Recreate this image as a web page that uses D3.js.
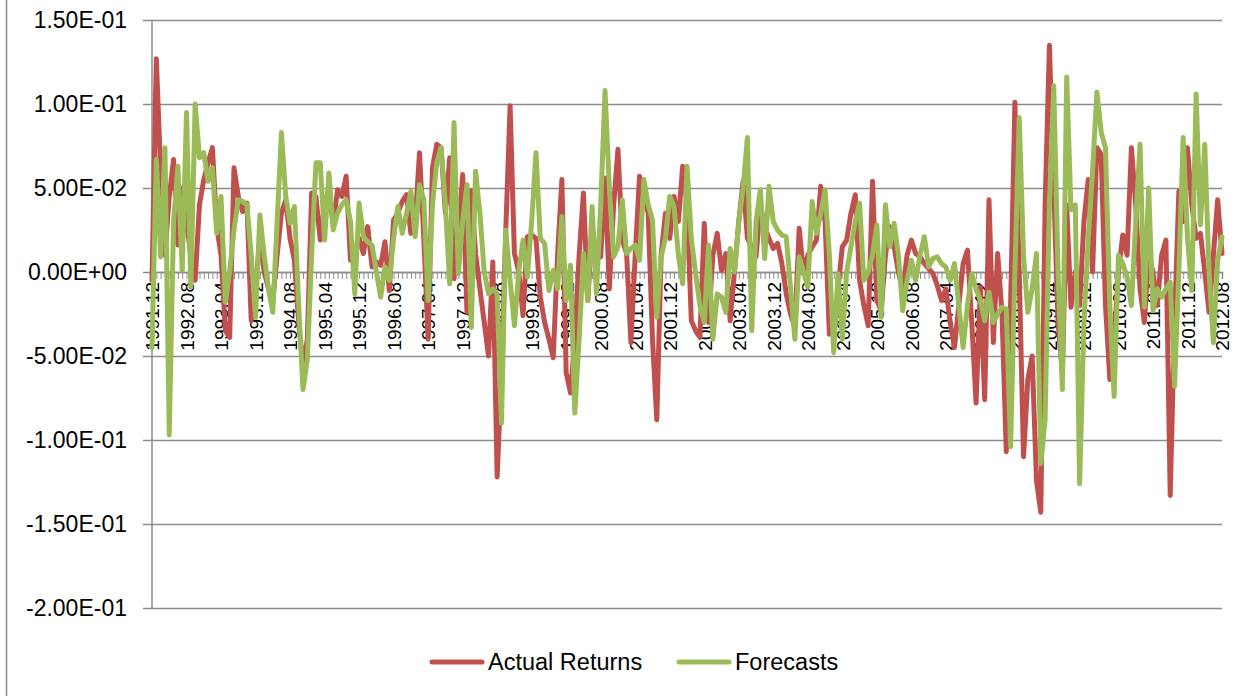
<!DOCTYPE html>
<html>
<head>
<meta charset="utf-8">
<script src="https://cdn.jsdelivr.net/npm/d3@7"></script>
<style>
  body { margin: 0; background: #fff; }
  svg { display: block; }
</style>
</head>
<body>
<div id="chart"></div>
<script>
// monthly series, 1991.12 to 2012.08 (249 months)
const startYear = 1991, startMonth = 12;

const actualReturns = [
  -0.005, 0.127, 0.060, 0.010, 0.045, 0.067, 0.016, 0.050, 0.030, 0.010,
  -0.005, 0.040, 0.055, 0.065, 0.074, 0.027, 0.010, -0.035, -0.039, 0.062,
  0.045, 0.036, 0.041, -0.029, -0.010, 0.020, 0.000, -0.010, -0.017, 0.010,
  0.035, 0.043, 0.020, 0.007, -0.030, -0.056, -0.040, 0.047, 0.045, 0.019,
  0.040, 0.050, 0.028, 0.049, 0.045, 0.057, 0.007, 0.012, 0.020, 0.011,
  0.027, 0.003, 0.006, 0.004, 0.018, -0.011, 0.031, 0.035, 0.042, 0.046,
  0.023, 0.030, 0.071, 0.020, -0.040, 0.062, 0.076, 0.074, 0.035, 0.068,
  -0.004, 0.020, 0.058, -0.024, 0.048, 0.011, -0.010, -0.030, -0.050, 0.006,
  -0.122, -0.060, 0.025, 0.099, 0.011, 0.000, -0.026, 0.021, 0.022, 0.020,
  -0.015, -0.030, -0.040, -0.051, 0.010, 0.055, -0.060, -0.072, -0.040, 0.010,
  0.047, -0.017, 0.025, 0.010, 0.009, 0.056, -0.010, 0.040, 0.073, 0.019,
  0.011, -0.042, 0.010, 0.057, 0.045, 0.035, -0.040, -0.088, 0.010, 0.035,
  0.020, 0.045, 0.030, 0.063, 0.040, -0.029, -0.035, -0.039, 0.029, -0.030,
  0.010, 0.023, 0.001, 0.011, -0.029, 0.000, 0.030, 0.054, 0.020, 0.015,
  0.009, 0.040, 0.027, 0.020, 0.014, 0.017, 0.005, -0.013, -0.025, -0.033,
  0.026, -0.001, 0.010, 0.015, 0.019, 0.051, 0.030, -0.037, -0.035, -0.010,
  0.015, 0.019, 0.035, 0.046, -0.005, -0.020, -0.032, 0.054, -0.017, -0.023,
  0.010, 0.027, 0.015, 0.000, -0.011, 0.010, 0.019, 0.011, 0.009, 0.005,
  0.002, -0.001, -0.008, -0.017, -0.010, -0.030, -0.045, -0.020, 0.005, 0.013,
  -0.030, -0.078, -0.009, -0.076, 0.043, -0.042, 0.011, -0.024, -0.107, -0.020,
  0.101, -0.001, -0.110, -0.064, -0.050, -0.124, -0.143, 0.040, 0.135, 0.050,
  -0.030, -0.060, 0.040, -0.021, 0.000, -0.020, 0.030, 0.055, 0.000, 0.074,
  0.070, -0.020, -0.064, -0.040, 0.000, 0.022, 0.010, 0.074, 0.040, -0.010,
  -0.030, 0.010, 0.000, -0.020, 0.010, 0.019, -0.133, -0.030, 0.048, 0.030,
  0.074, 0.040, 0.020, 0.023, 0.000, -0.024, 0.010, 0.043, 0.011
];

const forecasts = [
  -0.045, 0.067, 0.009, 0.074, -0.097, 0.030, 0.063, 0.001, 0.095, -0.009,
  0.100, 0.068, 0.071, 0.054, 0.062, 0.023, 0.045, -0.018, 0.000, 0.025,
  0.043, 0.042, 0.040, 0.010, -0.027, 0.034, 0.010, -0.010, -0.024, 0.030,
  0.083, 0.045, 0.029, 0.039, -0.020, -0.070, -0.052, 0.010, 0.065, 0.065,
  0.019, 0.059, 0.025, 0.035, 0.040, 0.043, 0.030, -0.013, 0.041, 0.021,
  0.018, 0.016, 0.000, -0.015, 0.003, -0.005, 0.020, 0.039, 0.023, 0.035,
  0.048, 0.021, 0.052, 0.043, -0.017, 0.040, 0.065, 0.074, 0.040, -0.007,
  0.089, -0.001, 0.030, 0.052, -0.033, 0.060, 0.035, 0.000, -0.013, -0.010,
  -0.013, -0.090, 0.025, -0.005, -0.032, 0.000, 0.019, -0.003, 0.030, 0.071,
  0.020, 0.017, -0.011, 0.001, -0.010, 0.033, -0.017, 0.004, -0.084, -0.040,
  0.011, -0.017, 0.039, -0.013, 0.040, 0.108, 0.050, 0.009, 0.015, 0.043,
  0.011, 0.014, 0.016, 0.007, 0.055, 0.040, 0.031, -0.027, 0.009, 0.020,
  0.045, 0.039, 0.010, -0.007, 0.063, 0.020, -0.001, -0.020, -0.030, 0.016,
  -0.040, -0.013, -0.015, -0.024, 0.014, 0.000, 0.030, 0.050, 0.080, -0.035,
  0.030, 0.049, 0.008, 0.051, 0.030, 0.025, 0.022, 0.021, -0.010, -0.040,
  0.009, 0.000, -0.009, 0.042, 0.023, 0.035, 0.049, 0.010, -0.048, -0.001,
  -0.040, 0.000, 0.015, 0.030, 0.041, -0.005, 0.000, 0.010, 0.028, -0.027,
  0.040, 0.015, 0.029, 0.010, -0.023, -0.005, 0.007, -0.005, 0.010, 0.021,
  0.003, 0.008, 0.009, 0.005, 0.003, -0.005, 0.005, -0.020, -0.045, -0.020,
  -0.001, -0.010, -0.017, -0.029, -0.012, -0.030, -0.025, -0.021, -0.022, -0.104,
  0.000, 0.092, 0.010, -0.024, -0.010, 0.011, -0.114, -0.088, 0.040, 0.111,
  0.000, -0.070, 0.116, 0.037, 0.040, -0.126, -0.030, 0.020, 0.060, 0.107,
  0.083, 0.074, -0.020, -0.074, 0.010, 0.005, -0.003, -0.020, 0.030, 0.076,
  -0.021, 0.050, -0.023, -0.010, -0.015, -0.010, -0.006, -0.068, 0.000, 0.080,
  0.020, -0.011, 0.106, 0.028, 0.076, 0.000, -0.042, 0.007, 0.021
];

const tickLabels = [
  "1991.12", "1992.08", "1993.04", "1993.12", "1994.08", "1995.04", "1995.12", "1996.08",
  "1997.04", "1997.12", "1998.08", "1999.04", "1999.12", "2000.08", "2001.04", "2001.12",
  "2002.08", "2003.04", "2003.12", "2004.08", "2005.04", "2005.12", "2006.08", "2007.04",
  "2007.12", "2008.08", "2009.04", "2009.12", "2010.08", "2011.04", "2011.12", "2012.08"
];

const yTicks = [-0.2, -0.15, -0.1, -0.05, 0, 0.05, 0.1, 0.15];

const seriesNames = ["Actual Returns", "Forecasts"];
const seriesColors = ["#c0504d", "#9bbb59"];

// month labels for every data point
const months = actualReturns.map((d, i) => {
  const m = (startMonth - 1 + i) % 12 + 1;
  const y = startYear + Math.floor((startMonth - 1 + i) / 12);
  return `${y}.${String(m).padStart(2, "0")}`;
});

const width = 1251, height = 696;
const plot = { left: 152, right: 1222, top: 20, bottom: 608 };
const gridColor = "#8c8c8c";

const svg = d3.select("#chart").append("svg")
  .attr("width", width)
  .attr("height", height)
  .attr("font-family", "'Liberation Sans', Arial, sans-serif");

// chart area border (left edge visible)
svg.append("line")
  .attr("x1", 6.5).attr("x2", 6.5)
  .attr("y1", 0).attr("y2", height)
  .attr("stroke", "#888")
  .attr("stroke-width", 1.5);

const x = d3.scalePoint()
  .domain(months)
  .range([plot.left, plot.right]);

const y = d3.scaleLinear()
  .domain([-0.2, 0.15])
  .range([plot.bottom, plot.top]);

// horizontal gridlines + y axis labels
const yAxis = d3.axisLeft(y)
  .tickValues(yTicks)
  .tickSize(-(plot.right - plot.left))
  .tickPadding(16)
  .tickFormat(d => d.toExponential(2).replace(/e([+-])(\d)$/, "E$10$2").toUpperCase());

const gy = svg.append("g")
  .attr("transform", `translate(${plot.left},0)`)
  .call(yAxis);
gy.select(".domain").remove();
gy.selectAll(".tick line")
  .attr("x1", -9)
  .attr("stroke", gridColor)
  .attr("stroke-width", 1.5);
gy.selectAll(".tick text")
  .attr("font-size", 23)
  .attr("fill", "#000")
  .attr("dx", -9);

// vertical y axis line
svg.append("line")
  .attr("x1", plot.left).attr("x2", plot.left)
  .attr("y1", plot.top).attr("y2", plot.bottom)
  .attr("stroke", gridColor)
  .attr("stroke-width", 1.5);

// category axis at zero
const y0 = y(0);
const gx = svg.append("g")
  .attr("transform", `translate(0,${y0})`)
  .call(d3.axisBottom(x).tickSize(7).tickFormat(""));
gx.select(".domain")
  .attr("stroke", gridColor)
  .attr("stroke-width", 1.5);
gx.selectAll(".tick line")
  .attr("stroke", gridColor)
  .attr("stroke-width", 1);

gx.selectAll(".tick")
  .filter(d => tickLabels.includes(d))
  .append("text")
  .attr("transform", "rotate(-90)")
  .attr("x", -10)
  .attr("dy", "0.36em")
  .attr("text-anchor", "end")
  .attr("font-size", 19)
  .attr("fill", "#000")
  .text(d => d);

// series lines
const line = d3.line()
  .x((d, i) => x(months[i]))
  .y(d => y(d));

[actualReturns, forecasts].forEach((s, k) => {
  svg.append("path")
    .datum(s)
    .attr("d", line)
    .attr("fill", "none")
    .attr("stroke", seriesColors[k])
    .attr("stroke-width", 5)
    .attr("stroke-linejoin", "round")
    .attr("stroke-linecap", "round");
});

// legend
const legendItems = [
  { name: seriesNames[0], color: seriesColors[0], x: 432 },
  { name: seriesNames[1], color: seriesColors[1], x: 679 }
];
const lg = svg.append("g").attr("transform", "translate(0,662)");
legendItems.forEach(d => {
  lg.append("line")
    .attr("x1", d.x).attr("x2", d.x + 50)
    .attr("y1", 0).attr("y2", 0)
    .attr("stroke", d.color)
    .attr("stroke-width", 5)
    .attr("stroke-linecap", "round");
  lg.append("text")
    .attr("x", d.x + 56)
    .attr("dy", "0.35em")
    .attr("font-size", 23.5)
    .attr("fill", "#000")
    .text(d.name);
});
</script>
</body>
</html>
